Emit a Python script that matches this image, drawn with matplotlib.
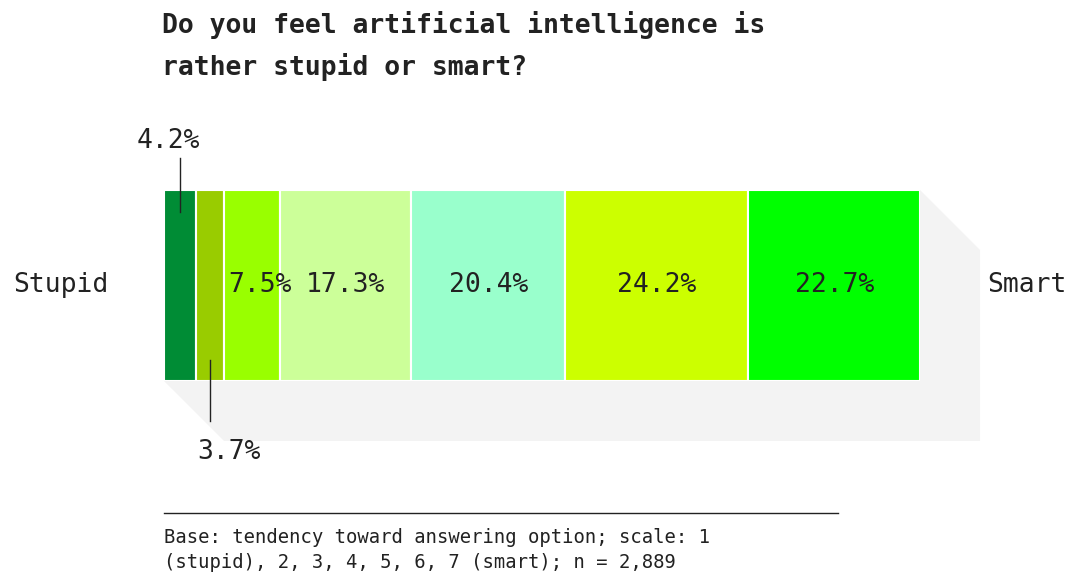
import matplotlib.pyplot as plt
import numpy as np
from matplotlib.patches import Polygon
from matplotlib.lines import Line2D

# survey answers, 1 (stupid) .. 7 (smart)
values = [4.2, 3.7, 7.5, 17.3, 20.4, 24.2, 22.7]
labels = ['4.2%', '3.7%', '7.5%', '17.3%', '20.4%', '24.2%', '22.7%']
colors = ['#008C35', '#99CC00', '#99FF00', '#CCFF99', '#99FFCC', '#CCFF00', '#00FF00']

title = 'Do you feel artificial intelligence is\nrather stupid or smart?'
note = ('Base: tendency toward answering option; scale: 1\n'
        '(stupid), 2, 3, 4, 5, 6, 7 (smart); n = 2,889')

plt.rcParams['font.family'] = ['DejaVu Sans Mono', 'DejaVu Sans']
txt = '#222222'

W, H = 1068, 572
fig = plt.figure(figsize=(W / 100, H / 100), dpi=100)
ax = fig.add_axes([164 / W, (H - 381) / H, 756 / W, 191 / H])
ax.set_xlim(0, 100)
ax.set_ylim(0, 1)
ax.axis('off')

total = sum(values)
vals = np.array(values) / total * 100
lefts = np.concatenate([[0], np.cumsum(vals)[:-1]])

# grey "extrusion" behind the bar
dx, dy = 7.94, 0.314
shadow = Polygon([(0, 1), (100, 1), (100 + dx, 1 - dy), (100 + dx, -dy),
                  (dx, -dy), (0, 0)], closed=True, facecolor='#F3F3F3',
                 edgecolor='none', clip_on=False, zorder=0)
ax.add_patch(shadow)

ax.barh(0.5, vals, left=lefts, height=1, color=colors,
        edgecolor='white', linewidth=1.5, zorder=2)

centers = lefts + vals / 2
fs = 19
for i, (c, lab) in enumerate(zip(centers, labels)):
    if i == 0:
        ax.plot([c, c], [0.885, 1.168], color=txt, lw=1, clip_on=False, zorder=3)
        ax.text(c - 1.5, 1.257, lab, ha='center', va='center', fontsize=fs,
                color=txt, clip_on=False)
    elif i == 1:
        ax.plot([c, c], [-0.209, 0.11], color=txt, lw=1, clip_on=False, zorder=3)
        ax.text(c + 2.5, -0.372, lab, ha='center', va='center', fontsize=fs,
                color=txt, clip_on=False)
    else:
        off = 1.0 if i == 2 else 0
        ax.text(c + off, 0.5, lab, ha='center', va='center', fontsize=fs,
                color=txt, zorder=4)

ax.text(-7.4, 0.5, 'Stupid', ha='right', va='center', fontsize=fs, color=txt)
ax.text(108.9, 0.5, 'Smart', ha='left', va='center', fontsize=fs, color=txt)

fig.text(162 / W, 1 - 46 / H, title, ha='left', va='center', fontsize=19,
         fontweight='bold', color=txt, linespacing=1.6)

fig.add_artist(Line2D([164 / W, 838 / W], [1 - 513 / H] * 2, color=txt, lw=1))
fig.text(164 / W, 1 - 550 / H, note, ha='left', va='center', fontsize=13.6,
         color=txt, linespacing=1.38)

plt.savefig('out.png', dpi=100)
